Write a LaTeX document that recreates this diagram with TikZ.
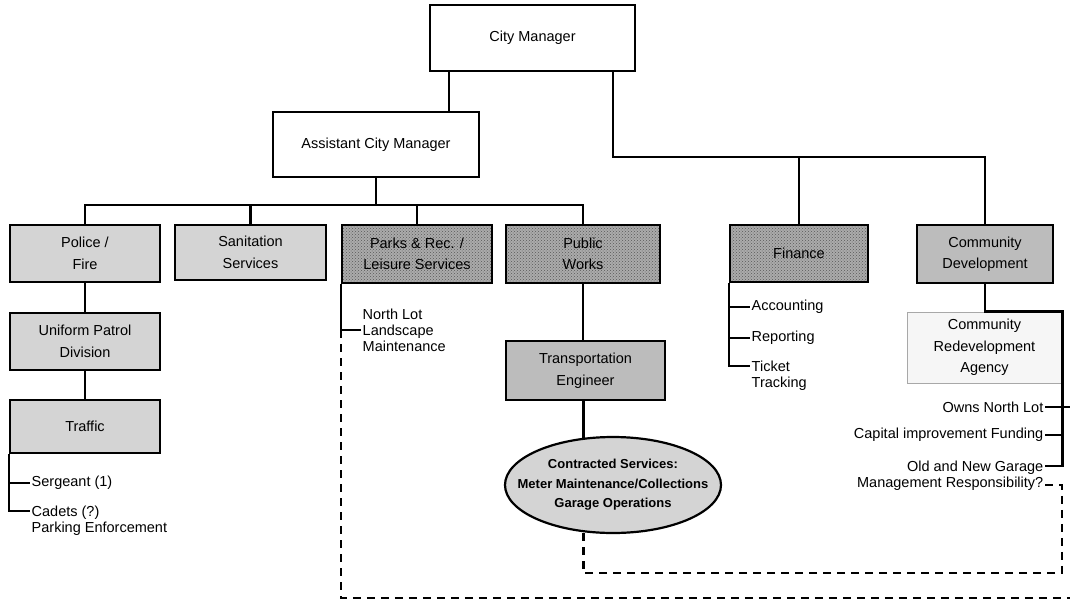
\documentclass[tikz,border=0pt]{standalone}
\usepackage{fontspec}
\setmainfont{Liberation Sans}
\usetikzlibrary{shapes.geometric,patterns}
\definecolor{lightbox}{HTML}{D4D4D4}
\definecolor{midbox}{HTML}{BCBCBC}
\definecolor{darkbox}{HTML}{ABABAB}
\definecolor{agencybox}{HTML}{F6F6F6}
\definecolor{agencyline}{HTML}{A8A8A8}

\begin{document}
\begin{tikzpicture}[x=1pt,y=-1pt,
    box/.style={draw, line width=2.2pt, align=center, inner sep=0pt,
      font=\fontsize{14.5}{21.5}\selectfont},
    plain/.style={box, fill=white},
    light/.style={box, fill=lightbox},
    mid/.style={box, fill=midbox},
    dark/.style={box, preaction={fill=darkbox}, pattern=crosshatch dots,
      pattern color=black!65},
    item/.style={align=left, inner sep=1.5pt,
      font=\fontsize{14.5}{16}\selectfont},
    ritem/.style={item, align=right},
    link/.style={line width=2.2pt},
    dashlink/.style={line width=2.2pt, dash pattern=on 8pt off 6pt}]
        \useasboundingbox (0,0) rectangle (1070,605);

        % top of the chart
        \node[plain, minimum width=205pt, minimum height=66pt] (cm) at (532.5,38) {City Manager};
        \node[plain, minimum width=206pt, minimum height=65pt] (acm) at (376,144.5) {Assistant City Manager};

        % departments
        \node[light, minimum width=150pt, minimum height=57pt] (police) at (85,253.5) {Police /\\Fire};
        \node[light, minimum width=151pt, minimum height=55pt] (sanit) at (250.5,252.5) {Sanitation\\Services};
        \node[dark, minimum width=150pt, minimum height=58pt] (parks) at (417,254) {Parks \& Rec. /\\Leisure Services};
        \node[dark, minimum width=154pt, minimum height=58pt] (pubw) at (583,254) {Public\\Works};
        \node[dark, minimum width=138pt, minimum height=57pt] (finance) at (799,253.5) {Finance};
        \node[mid, minimum width=136pt, minimum height=58pt] (comdev) at (985,254) {Community\\Development};

        % lower boxes
        \node[light, minimum width=150pt, minimum height=57pt] (patrol) at (85,341.5) {Uniform Patrol\\Division};
        \node[light, minimum width=150pt, minimum height=53pt] (traffic) at (85,426.5) {Traffic};
        \node[mid, minimum width=159pt, minimum height=59pt] (transp) at (585.5,370.5) {Transportation\\Engineer};
        \node[box, draw=agencyline, line width=1pt, fill=agencybox, minimum width=155pt, minimum height=71pt] (agency) at (984.5,347.5) {Community\\Redevelopment\\Agency};
        \node[ellipse, draw, line width=2.2pt, fill=lightbox, inner sep=0pt, minimum width=216pt, minimum height=96pt,
          align=center, font=\bfseries\fontsize{13}{19.5}\selectfont] (contract) at (613,485)
          {\makebox[0pt]{Contracted Services:}\\\makebox[0pt]{Meter Maintenance/Collections}\\\makebox[0pt]{Garage Operations}};

        % side lists
        \node[item, anchor=west] (sgt) at (30,483) {Sergeant (1)};
        \node[item, anchor=north west] (cadets) at (30,504) {Cadets (?)\\Parking Enforcement};
        \node[item, anchor=west] (lands) at (361,330) {North Lot\\Landscape\\Maintenance};
        \node[item, anchor=west] (acct) at (750,307) {Accounting};
        \node[item, anchor=west] (report) at (750,338) {Reporting};
        \node[item, anchor=north west] (ticket) at (750,359) {Ticket\\Tracking};
        \node[ritem, anchor=east] (owns) at (1045,407) {Owns North Lot};
        \node[ritem, anchor=east] (capital) at (1045,435) {Capital improvement Funding};
        \node[ritem, anchor=north east] (garage) at (1045,459) {Old and New Garage\\Management Responsibility?};

        \coordinate (rbus) at (613,157);
        \coordinate (bus) at (0,205);
        \coordinate (lowrim) at (1072,598);
        \coordinate (innrim) at (1062,573);

        % solid lines
        \draw[link] (449,0 |- cm.south) -- (449,0 |- acm.north);
        \draw[link] (cm.south -| rbus) -- (rbus) -| (comdev.north);
        \draw[link] (finance.north) -- (finance.north |- rbus);
        \draw[link] (acm.south) -- (acm.south |- bus);
        \draw[link] (police.north) |- (bus -| pubw.north) -- (pubw.north);
        \draw[link] (sanit.north) -- (sanit.north |- bus);
        \draw[link] (parks.north) -- (parks.north |- bus);
        \draw[link] (police) -- (patrol);
        \draw[link] (patrol) -- (traffic);
        \draw[link] (pubw.south) -- (pubw.south |- transp.north);
        \draw[link] (contract.122) -- (contract.122 |- transp.south);
        \draw[link] (traffic.south west) |- ([yshift=-7pt]cadets.north west);
        \draw[link] (traffic.south west |- sgt.west) -- (sgt.west);
        \draw[link] (parks.south west) |- (lands.west);
        \draw[link] (finance.south west) |- ([yshift=-7pt]ticket.north west);
        \draw[link] (finance.south west |- acct.west) -- (acct.west);
        \draw[link] (finance.south west |- report.west) -- (report.west);
        \draw[link] (comdev.south) |- (agency.north east) |- ([yshift=-7pt]garage.north east);
        \draw[link] (owns.east) -- (owns.east -| agency.east);
        \draw[link] (capital.east) -- (capital.east -| agency.east);

        % dashed lines
        \draw[dashlink] (parks.south west |- lands.west) |- (lowrim) |- (owns.east);
        \draw[dashlink] ([yshift=7pt]garage.south east) -| (innrim) -| (contract.238);
    \end{tikzpicture}
\end{document}
